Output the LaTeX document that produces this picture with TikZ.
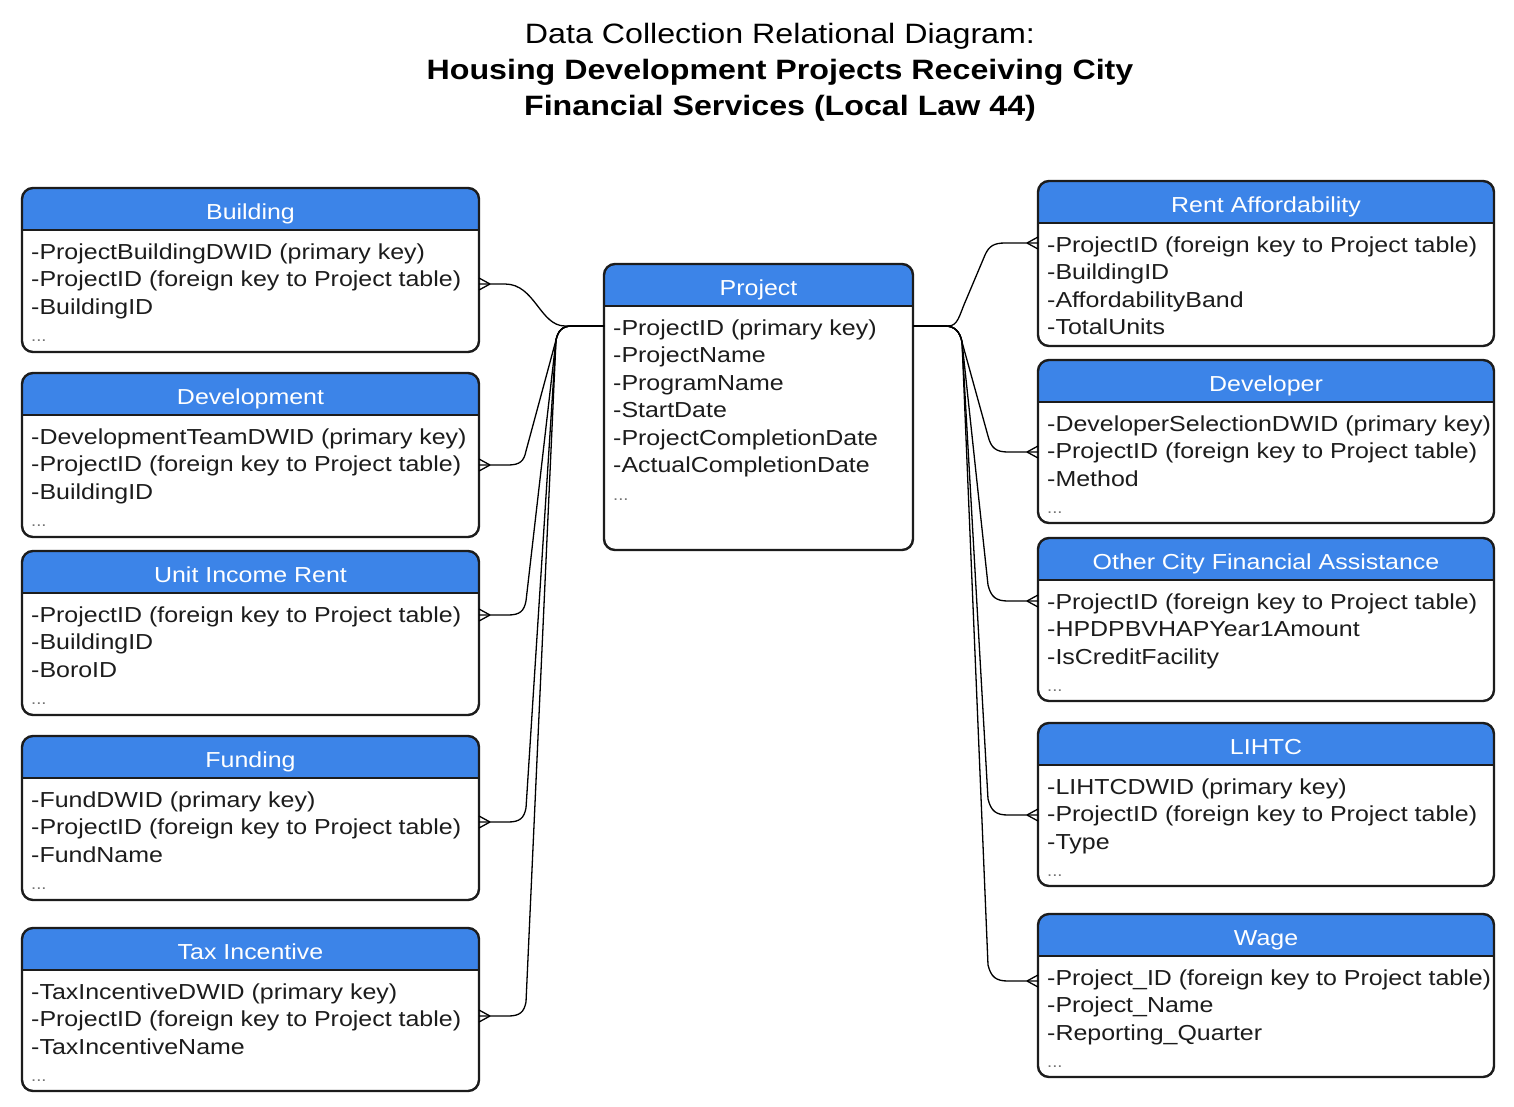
\documentclass[tikz,border=0pt]{standalone}
\usepackage{fontspec}
\setmainfont{Liberation Sans}[FakeStretch=1.15]
\definecolor{hdrblue}{RGB}{60,132,232}
\definecolor{ink}{RGB}{28,28,28}
\tikzset{
  tblshape/.style={rectangle, inner sep=0pt, outer sep=0pt},
  border/.style={draw=ink, line width=2.4pt, rounded corners=11pt},
  hdrsep/.style={draw=ink, line width=2pt},
  hdrtext/.style={text=white, font=\fontsize{21.7}{26}\selectfont, inner sep=0pt},
  bodytext/.style={text=ink, font=\fontsize{21.7}{26}\selectfont, inner sep=0pt},
  conn/.style={draw=black, line width=1.3pt},
  titletext/.style={text=black, font=\fontsize{28}{34}\selectfont, inner sep=0pt},
  titlebold/.style={text=black, font=\fontsize{28}{34}\selectfont\bfseries, inner sep=0pt},
}
\newcommand\erdots{{\fontsize{16}{16}\selectfont\textcolor{black!55}{...}}}
% #1 name, #2 x1, #3 y1, #4 x2, #5 y2, #6 title, #7 lines
\newcommand\ertable[7]{%
  \node[tblshape, minimum width={(#4)-(#2)}, minimum height={(#5)-(#3)}, anchor=north west] (#1) at (#2,#3) {};
  \fill[hdrblue, rounded corners=11pt] (#2,#3+42) -- (#2,#3) -- (#4,#3) -- (#4,#3+42);
  \draw[hdrsep] (#2,#3+42) -- (#4,#3+42);
  \draw[border] (#1.north west) rectangle (#1.south east);
  \node[hdrtext, anchor=base] (#1-t) at ({(#2+#4)/2},{#3+31}) {#6};
  \foreach \t [count=\i] in {#7} {\node[bodytext, anchor=base west] (#1-\i) at ({#2+9},{#3+71+(\i-1)*27.5}) {\t};}
}
\newcommand\connL[2]{%
  \draw[conn] (pw) -- (572,326) .. controls (562,326) and (558,331) .. (556,340) -- (526,{#2-14}) .. controls (524,{#2-4}) and (520,#2) .. (508,#2) -- (#1);
  \draw[conn] (#1) ++(11,0) -- ++(-11,-6) (#1) ++(11,0) -- ++(-11,6);
}
\newcommand\connR[2]{%
  \draw[conn] (pe) -- (945,326) .. controls (955,326) and (960,332) .. (962,342) -- (988,{#2-16}) .. controls (991,{#2-4}) and (996,#2) .. (1008,#2) -- (#1);
  \draw[conn] (#1) ++(-11,0) -- ++(11,-6) (#1) ++(-11,0) -- ++(11,6);
}
\begin{document}
\begin{tikzpicture}[x=1pt,y=-1pt]
\useasboundingbox[fill=white] (0,0) rectangle (1514,1106);

% title
\node[titletext, anchor=base] (title1) at (780,43) {Data Collection Relational Diagram:};
\node[titlebold, anchor=base] (title2) at (780,79) {Housing Development Projects Receiving City};
\node[titlebold, anchor=base] (title3) at (780,115) {Financial Services (Local Law 44)};

% left column
\ertable{bld}{22}{188}{479}{352}{Building}{-ProjectBuildingDWID (primary key),-ProjectID (foreign key to Project table),-BuildingID,\erdots}
\ertable{dev}{22}{373}{479}{537}{Development}{-DevelopmentTeamDWID (primary key),-ProjectID (foreign key to Project table),-BuildingID,\erdots}
\ertable{uir}{22}{551}{479}{715}{Unit Income Rent}{-ProjectID (foreign key to Project table),-BuildingID,-BoroID,\erdots}
\ertable{fund}{22}{736}{479}{900}{Funding}{-FundDWID (primary key),-ProjectID (foreign key to Project table),-FundName,\erdots}
\ertable{tax}{22}{928}{479}{1091}{Tax Incentive}{-TaxIncentiveDWID (primary key),-ProjectID (foreign key to Project table),-TaxIncentiveName,\erdots}

% centre
\ertable{proj}{604}{264}{913}{550}{Project}{-ProjectID (primary key),-ProjectName,-ProgramName,-StartDate,-ProjectCompletionDate,-ActualCompletionDate,\erdots}

% right column
\ertable{rent}{1038}{181}{1494}{346}{Rent Affordability}{-ProjectID (foreign key to Project table),-BuildingID,-AffordabilityBand,-TotalUnits}
\ertable{devr}{1038}{360}{1494}{523}{Developer}{-DeveloperSelectionDWID (primary key),-ProjectID (foreign key to Project table),-Method,\erdots}
\ertable{ocfa}{1038}{538}{1494}{701}{Other City Financial Assistance}{-ProjectID (foreign key to Project table),-HPDPBVHAPYear1Amount,-IsCreditFacility,\erdots}
\ertable{lihtc}{1038}{723}{1494}{886}{LIHTC}{-LIHTCDWID (primary key),-ProjectID (foreign key to Project table),-Type,\erdots}
\ertable{wage}{1038}{914}{1494}{1077}{Wage}{-Project\_ID (foreign key to Project table),-Project\_Name,-Reporting\_Quarter,\erdots}

% attachment points
\coordinate (pw) at (proj.west |- 0,326);
\coordinate (pe) at (proj.east |- 0,326);
\coordinate (bld-fk) at (bld.east |- 0,284);
\coordinate (dev-fk) at (dev.east |- 0,465);
\coordinate (uir-fk) at (uir.east |- 0,615);
\coordinate (fund-fk) at (fund.east |- 0,822);
\coordinate (tax-fk) at (tax.east |- 0,1016);
\coordinate (rent-fk) at (rent.west |- 0,243);
\coordinate (devr-fk) at (devr.west |- 0,452);
\coordinate (ocfa-fk) at (ocfa.west |- 0,601);
\coordinate (lihtc-fk) at (lihtc.west |- 0,815);
\coordinate (wage-fk) at (wage.west |- 0,981);

% connectors left
\draw[conn] (pw) -- (565,326) .. controls (540,326) and (535,284) .. (505,284) -- (bld-fk);
\draw[conn] (bld-fk) ++(11,0) -- ++(-11,-6) (bld-fk) ++(11,0) -- ++(-11,6);
\connL{dev-fk}{465}
\connL{uir-fk}{615}
\connL{fund-fk}{822}
\connL{tax-fk}{1016}

% connectors right
\draw[conn] (pe) -- (948,326) .. controls (958,326) and (959,316) .. (966,300) -- (985,255) .. controls (989,246) and (994,243) .. (1005,243) -- (rent-fk);
\draw[conn] (rent-fk) ++(-11,0) -- ++(11,-6) (rent-fk) ++(-11,0) -- ++(11,6);
\connR{devr-fk}{452}
\connR{ocfa-fk}{601}
\connR{lihtc-fk}{815}
\connR{wage-fk}{981}
\end{tikzpicture}
\end{document}
